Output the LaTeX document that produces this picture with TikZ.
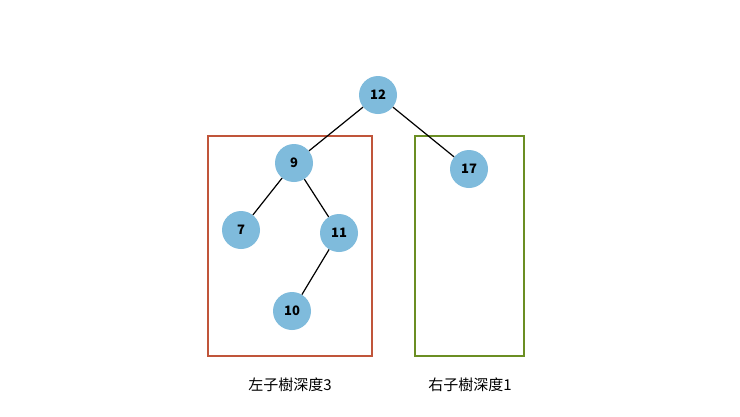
\documentclass[tikz,border=0pt]{standalone}
\usepackage{fontspec}
\setmainfont{Noto Sans CJK TC}
\begin{document}
\begin{tikzpicture}[x=1pt,y=-1pt,
  tn/.style={circle,fill=nodeblue,minimum size=38pt,inner sep=0pt,font=\bfseries\fontsize{13}{13}\selectfont},
  edge/.style={draw=black,line width=1.2pt}]
\definecolor{nodeblue}{HTML}{7FBBDC}
\definecolor{boxred}{HTML}{C0553A}
\definecolor{boxgreen}{HTML}{6B8E23}
\useasboundingbox[fill=white] (0,0) rectangle (740,416);
\draw[boxred,line width=1.2pt] (208,136) rectangle (372,356);
\draw[boxgreen,line width=1.2pt] (415,136) rectangle (524,356);
\node[tn] (n12) at (378,95) {12};
\node[tn] (n9) at (294,163) {9};
\node[tn] (n7) at (241,230) {7};
\node[tn] (n11) at (339,233) {11};
\node[tn] (n10) at (292,311) {10};
\node[tn] (n17) at (469,169) {17};
\draw[edge] (n12) -- (n9);
\draw[edge] (n12) -- (n17);
\draw[edge] (n9) -- (n7);
\draw[edge] (n9) -- (n11);
\draw[edge] (n11) -- (n10);
\node[font=\fontsize{15}{15}\selectfont] (l1) at (290,385) {左子樹深度3};
\node[font=\fontsize{15}{15}\selectfont] (l2) at (470,385) {右子樹深度1};
\end{tikzpicture}
\end{document}
